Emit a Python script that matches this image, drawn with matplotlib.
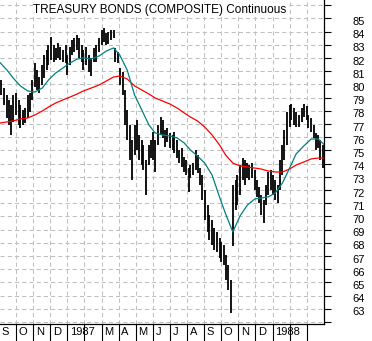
import matplotlib
matplotlib.use("Agg")
import matplotlib.pyplot as plt
import pandas as pd
from matplotlib.transforms import ScaledTranslation, blended_transform_factory

plt.rcParams["lines.scale_dashes"] = False

title = "TREASURY BONDS (COMPOSITE) Continuous"

# price bars, one every third business day starting 2 Sep 1986
high = [
    80.49, 80.34, 79.73, 79.20, 78.83, 78.45, 79.20,
    79.36, 78.83, 78.45, 78.07, 78.22, 79.20, 79.36, 80.34,
    81.63, 81.10, 80.57, 81.48, 82.23, 82.61, 82.99,
    83.60, 82.99, 82.77, 83.14, 82.84, 82.61, 82.99,
    82.23, 82.84, 83.37, 83.52, 83.75, 83.52, 82.99,
    82.61, 82.84, 82.23, 82.01, 82.77, 82.99, 83.52,
    84.13, 84.28, 83.90, 83.98, 84.13, 84.13, 82.77,
    82.46, 81.25, 80.95, 79.58, 78.07, 76.93, 75.80, 76.93,
    77.31, 76.17, 75.80, 75.42, 74.28, 75.42, 75.80,
    76.40, 75.80, 76.93, 77.54, 77.31, 76.55, 76.70,
    76.33, 76.17, 76.40, 75.80, 75.04, 75.19, 74.51,
    74.28, 73.67, 73.90, 74.05, 75.04, 74.66, 73.67,
    73.14, 72.01, 70.87, 70.11, 69.73, 69.13, 68.83, 68.37,
    68.07, 67.84, 67.08, 66.33, 65.19, 72.39, 72.77, 73.14,
    73.90, 74.43, 74.28, 74.05, 73.90, 74.05, 73.52,
    72.77, 72.24, 71.63, 71.25, 72.39, 73.37, 73.52,
    73.14, 72.77, 72.39, 74.28, 75.42, 76.55, 77.92, 78.45,
    78.52, 78.22, 77.92, 77.69, 78.22, 78.52, 78.37,
    77.69, 77.46, 76.93, 76.33, 76.17, 75.80, 75.42,
]
low = [
    79.73, 79.20, 78.45, 77.46, 76.93, 76.17, 77.16,
    77.69, 76.93, 76.70, 76.93, 77.08, 77.46, 77.92, 78.83,
    79.81, 79.58, 79.36, 79.96, 80.49, 81.10, 81.48,
    81.86, 81.70, 81.86, 82.01, 81.86, 81.70, 81.63,
    80.72, 81.48, 82.23, 82.46, 82.61, 82.01, 81.70,
    81.10, 81.48, 80.95, 80.64, 81.70, 81.70, 82.46,
    82.99, 83.22, 82.99, 83.07, 83.37, 83.52, 81.70,
    81.63, 79.96, 79.20, 76.93, 75.80, 74.28, 72.77, 74.66,
    75.04, 74.28, 73.90, 73.52, 71.63, 73.90, 74.43,
    74.28, 73.37, 75.42, 76.17, 75.95, 75.27, 75.64,
    75.19, 75.04, 74.81, 74.43, 74.05, 73.75, 73.37,
    73.14, 71.86, 72.92, 73.14, 73.52, 73.30, 72.39,
    71.25, 69.73, 68.83, 68.22, 67.84, 67.46, 67.31, 66.86,
    66.55, 66.33, 65.19, 64.43, 62.69, 67.77, 70.49, 70.87,
    71.63, 72.77, 72.39, 72.92, 72.77, 72.92, 72.01,
    71.48, 71.02, 70.11, 69.51, 70.87, 71.63, 72.01,
    71.63, 71.25, 71.02, 72.01, 73.14, 74.28, 75.42, 76.78,
    77.31, 76.93, 76.78, 76.78, 77.16, 77.54, 77.31,
    76.70, 76.40, 75.95, 75.04, 75.19, 74.28, 73.67,
]

# moving averages, one value every ninth business day
short_ma = [
    81.70, 81.10, 80.49, 79.89, 79.51, 79.43, 79.73, 80.34,
    80.87, 81.25, 81.63, 81.93, 82.01, 81.93, 82.16, 82.54,
    82.77, 82.23, 81.10, 79.20, 78.07, 76.93, 76.33, 76.17,
    76.10, 75.95, 75.57, 75.04, 74.58, 74.05, 73.14, 71.48,
    70.19, 68.83, 70.04, 70.87, 71.33, 71.40, 71.48, 71.78,
    72.54, 73.67, 74.74, 75.34, 75.87, 75.87, 75.34,
]
long_ma = [
    77.08, 77.16, 77.24, 77.39, 77.46, 77.69, 77.99, 78.29,
    78.60, 78.83, 79.05, 79.28, 79.51, 79.73, 79.96, 80.27,
    80.57, 80.64, 80.42, 79.89, 79.58, 79.28, 78.98, 78.75,
    78.52, 78.22, 77.84, 77.54, 77.24, 76.78, 76.17, 75.42,
    74.66, 74.05, 73.83, 73.75, 73.67, 73.60, 73.45, 73.37,
    73.37, 73.60, 73.90, 74.13, 74.36, 74.43, 74.43,
]

# month captions, from September 1986 to March 1988
month_labels = ["S", "O", "N", "D", "1987", "", "M", "A", "M", "J", "J",
                "A", "S", "O", "N", "D", "1988", "", ""]
price_ticks = list(range(62, 87))
price_labels = [str(v) if 63 <= v <= 85 else "" for v in price_ticks]


def month_position(dates):
    # months counted from 1 Oct 1986, each month one unit wide
    return ((dates.year - 1986) * 12 + (dates.month - 10)
            + (dates.day - 1) / dates.days_in_month).to_numpy()


bar_dates = pd.bdate_range("1986-09-02", periods=len(high), freq="3B")
ma_dates = pd.bdate_range("1986-09-02", periods=len(short_ma), freq="9B")
bx = month_position(bar_dates)
mx = month_position(ma_dates)

fig = plt.figure(figsize=(3.72, 3.41), dpi=100)
ax = fig.add_axes([0.0, 17 / 341, 324 / 372, 324 / 341])

font = ["Liberation Sans", "DejaVu Sans"]
grid_kw = dict(color="#c0c0c0", linewidth=0.75, linestyle=(0, (3.0, 2.2)), zorder=0)
for m in range(0, 18):
    ax.axvline(m, **grid_kw)
for v in price_ticks:
    ax.axhline(v, **grid_kw)

ax.vlines(bx, low, high, color="black", linewidth=1.3, zorder=2)
ax.plot(mx, long_ma, color="#ff0000", linewidth=0.9, zorder=3)
ax.plot(mx, short_ma, color="#008080", linewidth=0.9, zorder=3)

ax.set_xlim(-0.936, 18.01)
ax.set_ylim(61.856, 86.40)

for s in ("top", "left"):
    ax.spines[s].set_visible(False)
for s in ("right", "bottom"):
    ax.spines[s].set_color("black")
    ax.spines[s].set_linewidth(0.9)

ax.yaxis.tick_right()
ax.set_yticks(price_ticks)
ax.set_yticklabels(price_labels, fontsize=8, family=font)
ax.tick_params(axis="y", direction="out", length=5, width=0.8, pad=15.5,
               color="black")
for lab in ax.get_yticklabels():
    lab.set_transform(lab.get_transform()
                      + ScaledTranslation(0, -2.5 / 100, fig.dpi_scale_trans))

ax.set_xticks(range(0, 18))
ax.set_xticklabels([])
ax.tick_params(axis="x", direction="out", length=12.5, width=0.8, color="black")

trans = blended_transform_factory(ax.transData, ax.transAxes)
for i, lab in enumerate(month_labels):
    if lab:
        ax.text(i - 1 + 0.15, -0.026, lab, transform=trans, ha="left",
                va="center", fontsize=8, family=font, clip_on=False)

ax.text(160 / 324, 1 - 10 / 324, title, transform=ax.transAxes, ha="center",
        va="center", fontsize=8.5, family=font, zorder=5,
        bbox=dict(facecolor="white", edgecolor="none", pad=0.5))

fig.savefig("out.png", dpi=100)
